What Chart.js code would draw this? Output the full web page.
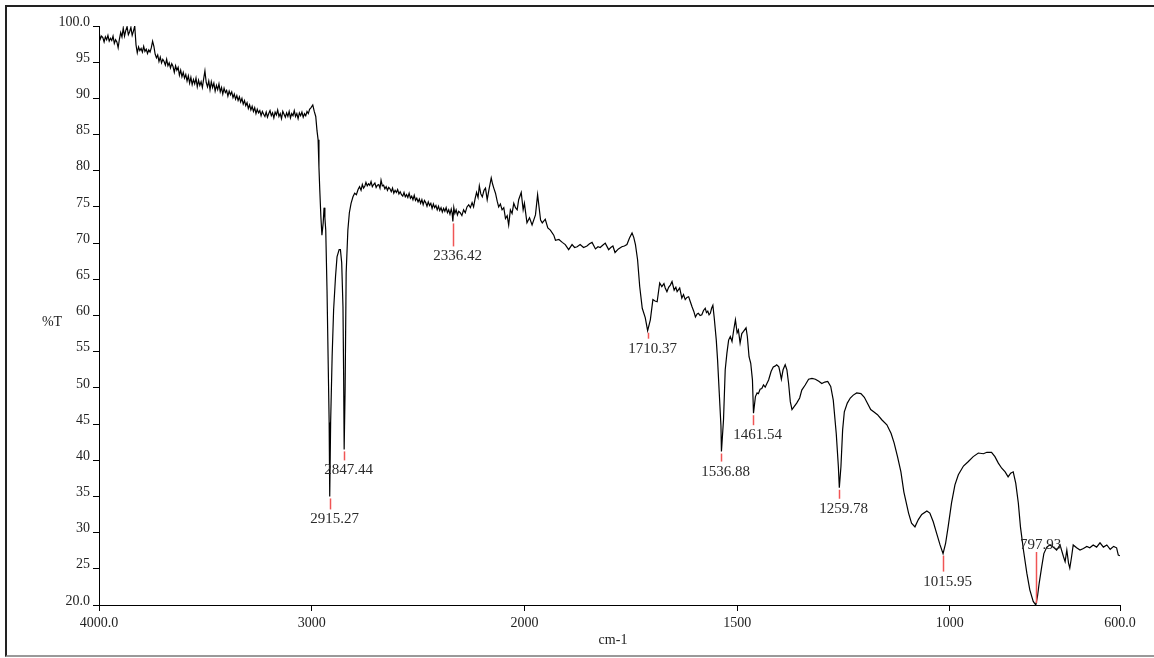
<!DOCTYPE html>
<html lang="en">
<head>
    <meta charset="UTF-8">
    <title>IR spectrum</title>
    <script src="https://cdn.jsdelivr.net/npm/chart.js"></script>
    <style>
        html, body {
            margin: 0;
            padding: 0;
            background: #fff;
        }
        #wrap {
            position: relative;
            width: 1154px;
            height: 658px;
        }
        .frame {
            position: absolute;
            left: 5px;
            top: 5px;
            width: 1149px;
            height: 652px;
            box-sizing: border-box;
            border: 2px solid #222;
            border-bottom-color: #999;
            border-right: none;
        }
        canvas {
            position: absolute;
            left: 0;
            top: 0;
        }
    </style>
</head>
<body>
<div id="wrap">
    <div class="frame"></div>
    <canvas id="irChart" width="1154" height="658"></canvas>
</div>

<script>
    // %T against wavenumber (cm-1), 4000 -> 2000
    const spectrumHigh = [
        [4000, 99.3], [3994, 98.2], [3988, 98.6], [3982, 98.4], [3976, 97.8], [3970, 98.5],
        [3964, 98.1], [3958, 98.7], [3952, 97.9], [3946, 98.3], [3940, 98.0], [3934, 98.6],
        [3928, 97.6], [3922, 98.1], [3916, 97.8], [3910, 97.0], [3904, 98.2], [3898, 99.1],
        [3892, 98.5], [3886, 99.7], [3880, 98.6], [3874, 99.4], [3868, 99.9], [3862, 98.8],
        [3856, 99.2], [3850, 99.8], [3844, 98.7], [3838, 99.3], [3832, 100.0], [3826, 97.4],
        [3820, 96.3], [3814, 97.1], [3808, 96.6], [3802, 96.9], [3796, 96.4], [3790, 97.2],
        [3784, 96.5], [3778, 96.8], [3772, 96.2], [3766, 96.7], [3760, 96.4], [3754, 97.0],
        [3748, 97.9], [3742, 97.2], [3736, 96.1], [3730, 95.6], [3724, 96.0], [3718, 95.1],
        [3712, 95.7], [3706, 94.9], [3700, 95.4], [3694, 95.1], [3688, 94.6], [3682, 95.4],
        [3676, 94.5], [3670, 94.9], [3664, 94.2], [3658, 94.8], [3652, 94.4], [3646, 93.6],
        [3640, 94.5], [3634, 93.9], [3628, 94.3], [3622, 93.2], [3616, 93.9], [3610, 93.0],
        [3604, 93.6], [3598, 92.8], [3592, 93.3], [3586, 92.4], [3580, 93.1], [3574, 92.1],
        [3568, 92.9], [3562, 91.9], [3556, 92.6], [3550, 92.0], [3544, 92.8], [3538, 91.6],
        [3532, 92.5], [3526, 91.8], [3520, 92.3], [3514, 91.5], [3508, 92.7], [3502, 93.8],
        [3496, 92.2], [3490, 91.6], [3484, 92.4], [3478, 91.2], [3472, 92.3], [3466, 91.5],
        [3460, 92.1], [3454, 91.0], [3448, 91.8], [3442, 91.2], [3436, 92.0], [3430, 90.9],
        [3424, 91.5], [3418, 90.6], [3412, 91.4], [3406, 90.8], [3400, 91.1], [3394, 90.3],
        [3388, 91.0], [3382, 90.5], [3376, 90.9], [3370, 90.1], [3364, 90.6], [3358, 89.9],
        [3352, 90.4], [3346, 89.7], [3340, 90.2], [3334, 89.5], [3328, 90.0], [3322, 89.2],
        [3316, 89.7], [3310, 89.0], [3304, 89.4], [3298, 88.6], [3292, 89.1], [3286, 88.4],
        [3280, 88.9], [3274, 88.2], [3268, 88.7], [3262, 87.9], [3256, 88.5], [3250, 88.0],
        [3244, 88.3], [3238, 87.6], [3232, 88.2], [3226, 87.8], [3220, 87.5], [3214, 88.1],
        [3208, 87.4], [3202, 87.9], [3196, 88.3], [3190, 87.6], [3184, 88.0], [3178, 87.3],
        [3172, 88.1], [3166, 87.7], [3160, 88.4], [3154, 87.5], [3148, 87.9], [3142, 87.2],
        [3136, 88.2], [3130, 87.8], [3124, 87.4], [3118, 88.0], [3112, 87.5], [3106, 88.2],
        [3100, 87.3], [3094, 87.9], [3088, 87.6], [3082, 88.3], [3076, 87.5], [3070, 87.9],
        [3064, 87.2], [3058, 88.0], [3052, 87.6], [3046, 88.1], [3040, 87.4], [3034, 87.9],
        [3028, 87.6], [3022, 88.2], [3016, 87.9], [3010, 88.5], [3004, 88.7], [2995, 89.1],
        [2988, 88.2], [2981, 87.5], [2975, 85.5], [2970, 84.3], [2966, 80.5], [2962, 77.3],
        [2957, 73.7], [2952, 71.1], [2946, 72.8], [2942, 74.9], [2938, 73.5], [2934, 71.8],
        [2928, 63.5], [2923, 54.3], [2918, 45.2], [2915.27, 35.0], [2911, 45.2], [2904, 54.3],
        [2897, 60.8], [2888, 65.4], [2881, 68.1], [2871, 69.1], [2865, 69.1], [2859, 67.3],
        [2853, 61.2], [2850, 52.1], [2847.44, 41.5], [2843, 49.7], [2838, 65.9], [2830, 71.8],
        [2823, 74.2], [2815, 75.5], [2806, 76.4], [2798, 76.9], [2790, 76.7], [2782, 77.4],
        [2775, 77.8], [2768, 77.3], [2762, 78.1], [2756, 77.6], [2750, 77.9], [2745, 78.4],
        [2739, 77.9], [2733, 78.2], [2727, 78.0], [2721, 78.5], [2715, 77.8], [2709, 78.1],
        [2703, 78.3], [2697, 77.7], [2691, 78.0], [2685, 78.1], [2679, 77.6], [2674, 78.7],
        [2668, 77.9], [2662, 78.0], [2656, 77.5], [2650, 77.8], [2644, 77.3], [2638, 77.7],
        [2632, 77.5], [2626, 77.1], [2620, 77.6], [2614, 76.9], [2608, 77.3], [2602, 77.0],
        [2596, 77.4], [2590, 76.8], [2584, 77.1], [2578, 76.7], [2572, 76.5], [2566, 77.0],
        [2560, 76.4], [2554, 76.7], [2548, 76.3], [2542, 76.9], [2536, 76.2], [2530, 76.5],
        [2524, 76.0], [2518, 76.6], [2512, 75.9], [2506, 76.2], [2500, 75.7], [2494, 76.1],
        [2488, 75.5], [2482, 76.0], [2476, 75.3], [2470, 75.9], [2464, 75.6], [2458, 75.1],
        [2452, 75.7], [2446, 75.2], [2440, 75.5], [2434, 74.8], [2428, 75.4], [2422, 74.9],
        [2416, 75.2], [2410, 74.6], [2404, 75.1], [2398, 74.5], [2392, 74.9], [2386, 74.3],
        [2380, 74.8], [2374, 74.4], [2368, 74.9], [2362, 74.2], [2356, 74.6], [2350, 74.0],
        [2344, 74.7], [2340, 74.2], [2336.42, 73.0], [2332, 74.9], [2327, 74.1], [2321, 74.6],
        [2315, 73.9], [2309, 74.4], [2302, 74.2], [2294, 73.8], [2286, 74.6], [2278, 74.2],
        [2270, 75.0], [2262, 75.3], [2254, 74.9], [2246, 75.6], [2239, 75.0], [2232, 76.1],
        [2225, 77.0], [2218, 76.3], [2212, 77.9], [2205, 76.8], [2198, 76.4], [2190, 77.3],
        [2183, 77.6], [2175, 76.0], [2166, 77.5], [2156, 79.0], [2150, 78.2], [2144, 77.6],
        [2136, 76.9], [2128, 75.8], [2121, 75.0], [2113, 75.4], [2105, 74.6], [2097, 74.9],
        [2089, 73.4], [2081, 73.8], [2074, 72.5], [2066, 74.6], [2058, 74.1], [2050, 75.5],
        [2042, 74.9], [2034, 74.6], [2027, 76.0], [2015, 77.0], [2006, 74.6]
    ];

    // 2000 -> 600
    const spectrumLow = [
        [2000, 75.5], [1994, 72.8], [1988, 73.5], [1982, 72.5], [1974, 73.9], [1969, 76.7],
        [1962, 73.2], [1958, 72.8], [1951, 73.3], [1945, 72.1], [1939, 71.8], [1931, 71.1],
        [1927, 70.4], [1919, 70.5], [1911, 70.1], [1904, 69.8], [1896, 69.1], [1888, 69.8],
        [1882, 69.4], [1876, 69.5], [1869, 69.8], [1861, 69.4], [1853, 69.6], [1847, 69.9],
        [1841, 70.1], [1833, 69.2], [1827, 69.5], [1822, 69.4], [1816, 69.7], [1810, 70.0],
        [1802, 69.1], [1797, 69.4], [1792, 69.6], [1787, 68.7], [1779, 69.2], [1771, 69.5],
        [1765, 69.6], [1759, 69.8], [1753, 70.7], [1747, 71.4], [1743, 70.8], [1739, 69.8],
        [1734, 67.7], [1729, 64.0], [1723, 61.0], [1716, 59.7], [1710.37, 57.9], [1704, 59.4],
        [1698, 62.2], [1693, 62.0], [1688, 61.9], [1682, 64.5], [1677, 64.0], [1672, 64.4],
        [1669, 63.8], [1665, 63.3], [1661, 63.9], [1657, 64.2], [1653, 64.7], [1648, 63.5],
        [1644, 63.9], [1641, 63.3], [1635, 63.8], [1630, 62.4], [1626, 62.9], [1622, 62.2],
        [1618, 62.5], [1614, 62.6], [1610, 61.9], [1606, 61.2], [1602, 60.6], [1598, 59.8],
        [1594, 60.2], [1591, 60.3], [1587, 60.0], [1583, 60.1], [1579, 60.7], [1575, 61.0],
        [1572, 60.4], [1569, 60.6], [1566, 60.1], [1563, 60.3], [1560, 61.0], [1557, 61.4],
        [1554, 59.8], [1549, 56.6], [1546, 53.9], [1542, 49.3], [1538, 44.7], [1536.88, 41.2],
        [1532, 45.6], [1528, 52.5], [1524, 54.8], [1520, 56.6], [1516, 57.1], [1512, 56.4],
        [1508, 58.0], [1504, 59.4], [1500, 57.6], [1497, 58.0], [1493, 56.2], [1489, 57.5],
        [1485, 57.8], [1479, 58.3], [1476, 57.1], [1472, 54.3], [1468, 53.4], [1464, 51.1],
        [1461.54, 46.5], [1457, 48.8], [1453, 49.3], [1450, 49.2], [1446, 49.8], [1442, 49.9],
        [1438, 50.4], [1434, 50.1], [1430, 50.6], [1426, 51.1], [1420, 52.3], [1415, 52.9],
        [1411, 53.0], [1407, 53.2], [1402, 52.9], [1399, 52.1], [1396, 51.2], [1392, 52.5],
        [1387, 53.2], [1383, 52.5], [1379, 50.6], [1375, 48.1], [1371, 47.0], [1366, 47.4],
        [1360, 47.9], [1353, 48.6], [1348, 49.7], [1340, 50.4], [1332, 51.2], [1324, 51.3],
        [1316, 51.2], [1308, 50.9], [1301, 50.6], [1294, 50.8], [1287, 50.9], [1280, 50.2],
        [1274, 48.3], [1267, 43.7], [1262, 39.1], [1259.78, 36.2], [1256, 39.1], [1252, 44.2],
        [1248, 46.7], [1241, 47.9], [1234, 48.6], [1227, 49.0], [1219, 49.3], [1209, 49.2],
        [1201, 48.7], [1194, 47.9], [1186, 47.0], [1179, 46.7], [1170, 46.3], [1160, 45.6],
        [1148, 44.9], [1138, 43.7], [1131, 42.4], [1123, 40.5], [1115, 38.4], [1108, 35.6],
        [1097, 32.7], [1090, 31.3], [1082, 30.8], [1074, 31.8], [1066, 32.5], [1054, 33.0],
        [1047, 32.7], [1039, 31.5], [1031, 29.9], [1023, 28.3], [1015.95, 27.1], [1010, 28.5],
        [1004, 30.8], [996, 34.1], [988, 36.6], [980, 38.0], [968, 39.2], [957, 39.8],
        [945, 40.5], [933, 41.0], [921, 40.9], [913, 41.1], [902, 41.1], [894, 40.5],
        [886, 39.6], [878, 38.9], [870, 38.4], [863, 37.7], [857, 38.2], [851, 38.4],
        [845, 36.8], [839, 34.1], [834, 30.8], [827, 27.6], [819, 24.4], [812, 22.1],
        [804, 20.5], [797.93, 20.0], [794, 21.2], [790, 23.0], [784, 25.3], [779, 27.1],
        [772, 28.0], [765, 28.3], [757, 28.0], [749, 27.6], [741, 28.3], [733, 26.7],
        [729, 26.0], [725, 27.6], [721, 25.8], [718, 25.1], [714, 26.6], [710, 28.3],
        [702, 27.9], [694, 27.6], [686, 27.8], [678, 28.1], [671, 27.9], [663, 28.3],
        [655, 28.0], [647, 28.6], [639, 28.0], [631, 28.3], [623, 27.7], [615, 28.1],
        [608, 27.9], [604, 26.9], [600, 26.8]
    ];

    // picked peaks (cm-1)
    const peakWn = [2915.27, 2847.44, 2336.42, 1710.37, 1536.88, 1461.54, 1259.78, 1015.95, 797.93];

    const xTickWn = [4000, 3000, 2000, 1500, 1000, 600];
    const xTickText = ['4000.0', '3000', '2000', '1500', '1000', '600.0'];
    const yTicks = [20, 25, 30, 35, 40, 45, 50, 55, 60, 65, 70, 75, 80, 85, 90, 95, 100];
    const yTickText = ['20.0', '25', '30', '35', '40', '45', '50', '55', '60', '65', '70', '75', '80', '85', '90', '95', '100.0'];

    const spectrum = spectrumHigh.concat(spectrumLow);

    // the range above 2000 cm-1 is drawn at half the scale of the range below
    function toAxis(wn) {
        return wn > 2000 ? 2000 + (wn - 2000) / 2 : wn;
    }

    const serif = '"Liberation Serif", "Times New Roman", serif';
    const textColor = '#222';

    // red marker length in px for each peak (negative = drawn upward)
    const markLen = [11, 9, 23, 6, 8, 10, 9, 16, -51];

    const peakMarks = {
        id: 'peakMarks',
        afterDatasetsDraw(chart) {
            const ctx = chart.ctx;
            const x = chart.scales.x, y = chart.scales.y;
            ctx.save();
            peakWn.forEach((wn, i) => {
                const pt = spectrum.find(p => p[0] === wn);
                const px = Math.round(x.getPixelForValue(toAxis(wn))) + 0.5;
                const py = y.getPixelForValue(pt[1]);
                const dir = markLen[i] < 0 ? -1 : 1;
                const y0 = py + 2 * dir;
                const y1 = y0 + markLen[i];
                ctx.strokeStyle = '#f05555';
                ctx.lineWidth = 1.5;
                ctx.beginPath();
                ctx.moveTo(px, y0);
                ctx.lineTo(px, y1);
                ctx.stroke();

                ctx.fillStyle = '#2a2a2a';
                ctx.font = '15px ' + serif;
                ctx.textAlign = 'center';
                ctx.textBaseline = 'middle';
                ctx.fillText(wn.toFixed(2), px + 4, dir > 0 ? y1 + 10 : y1 - 7);
            });

            // axis titles
            ctx.fillStyle = textColor;
            ctx.font = '14px ' + serif;
            ctx.textAlign = 'center';
            ctx.textBaseline = 'middle';
            ctx.fillText('%T', 52, 322);
            ctx.fillText('cm-1', 613, 640);
            ctx.restore();
        }
    };

    new Chart(document.getElementById('irChart'), {
        type: 'line',
        data: {
            datasets: [{
                data: spectrum.map(p => ({ x: toAxis(p[0]), y: p[1] })),
                borderColor: '#000',
                borderWidth: 1.2,
                pointRadius: 0,
                tension: 0,
                fill: false
            }]
        },
        options: {
            responsive: false,
            animation: false,
            layout: {
                padding: { top: 26, right: 34, left: 0, bottom: 0 }
            },
            plugins: {
                legend: { display: false },
                tooltip: { enabled: false }
            },
            scales: {
                x: {
                    type: 'linear',
                    min: 600,
                    max: 3000,
                    reverse: true,
                    afterBuildTicks: s => { s.ticks = xTickWn.map(w => ({ value: toAxis(w) })); },
                    afterFit: s => { s.height = 53; },
                    grid: { drawOnChartArea: false, color: '#000', tickLength: 6 },
                    border: { color: '#000', width: 1 },
                    ticks: {
                        autoSkip: false,
                        maxRotation: 0,
                        padding: 4,
                        color: textColor,
                        font: { family: serif, size: 14 },
                        callback: v => xTickText[xTickWn.findIndex(w => toAxis(w) === v)]
                    }
                },
                y: {
                    min: 20,
                    max: 100,
                    afterBuildTicks: s => { s.ticks = yTicks.map(v => ({ value: v })); },
                    afterFit: s => { s.width = 99; },
                    grid: { drawOnChartArea: false, color: '#000', tickLength: 6 },
                    border: { color: '#000', width: 1 },
                    ticks: {
                        autoSkip: false,
                        padding: 3,
                        labelOffset: -4,
                        color: textColor,
                        font: { family: serif, size: 14 },
                        callback: v => yTickText[yTicks.indexOf(v)]
                    }
                }
            }
        },
        plugins: [peakMarks]
    });
</script>
</body>
</html>
